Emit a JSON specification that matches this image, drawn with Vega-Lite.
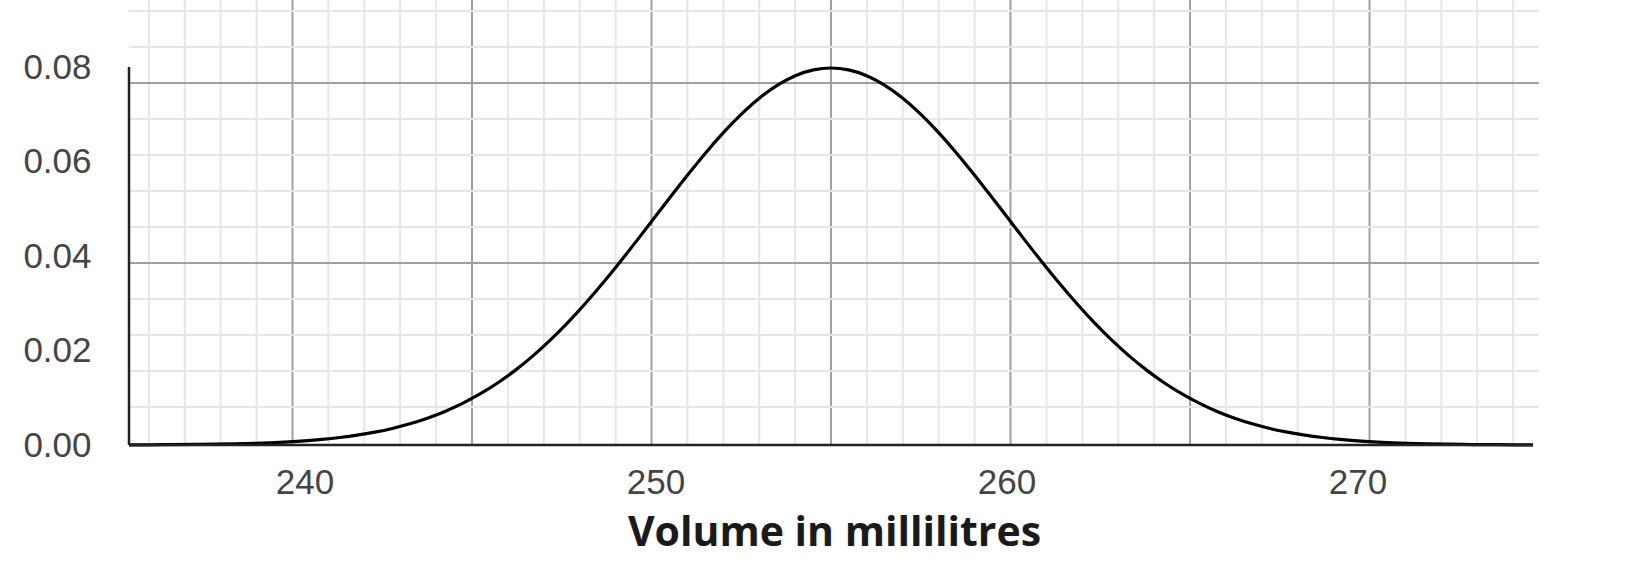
{
  "$schema": "https://vega.github.io/schema/vega-lite/v6.json",
  "width": 1410,
  "height": 445,
  "autosize": "none",
  "padding": {"left": 129, "top": 0, "right": 93, "bottom": 122},
  "background": "white",
  "config": {
    "view": {"stroke": null},
    "axis": {
      "labelFont": "Liberation Sans", "labelFontSize": 35, "labelColor": "#444444",
      "ticks": false, "tickSize": 0, "domain": false, "grid": false
    }
  },
  "datasets": {
    "curve": [
      {"ml": 235, "density": 0.0000267},
      {"ml": 236, "density": 0.0000584},
      {"ml": 237, "density": 0.000122},
      {"ml": 238, "density": 0.000246},
      {"ml": 239, "density": 0.000477},
      {"ml": 240, "density": 0.000886},
      {"ml": 240.5, "density": 0.001191},
      {"ml": 241, "density": 0.001583},
      {"ml": 241.5, "density": 0.002084},
      {"ml": 242, "density": 0.002717},
      {"ml": 242.5, "density": 0.003506},
      {"ml": 243, "density": 0.004479},
      {"ml": 243.5, "density": 0.005666},
      {"ml": 244, "density": 0.007095},
      {"ml": 244.5, "density": 0.008797},
      {"ml": 245, "density": 0.010798},
      {"ml": 245.5, "density": 0.013123},
      {"ml": 246, "density": 0.01579},
      {"ml": 246.5, "density": 0.01881},
      {"ml": 247, "density": 0.022184},
      {"ml": 247.5, "density": 0.025904},
      {"ml": 248, "density": 0.029945},
      {"ml": 248.5, "density": 0.034273},
      {"ml": 249, "density": 0.038837},
      {"ml": 249.5, "density": 0.04357},
      {"ml": 250, "density": 0.048394},
      {"ml": 250.5, "density": 0.053217},
      {"ml": 251, "density": 0.057938},
      {"ml": 251.5, "density": 0.062451},
      {"ml": 252, "density": 0.066645},
      {"ml": 252.5, "density": 0.070413},
      {"ml": 253, "density": 0.073654},
      {"ml": 253.5, "density": 0.076278},
      {"ml": 254, "density": 0.078209},
      {"ml": 254.5, "density": 0.079391},
      {"ml": 255, "density": 0.079788},
      {"ml": 255.5, "density": 0.079391},
      {"ml": 256, "density": 0.078209},
      {"ml": 256.5, "density": 0.076278},
      {"ml": 257, "density": 0.073654},
      {"ml": 257.5, "density": 0.070413},
      {"ml": 258, "density": 0.066645},
      {"ml": 258.5, "density": 0.062451},
      {"ml": 259, "density": 0.057938},
      {"ml": 259.5, "density": 0.053217},
      {"ml": 260, "density": 0.048394},
      {"ml": 260.5, "density": 0.04357},
      {"ml": 261, "density": 0.038837},
      {"ml": 261.5, "density": 0.034273},
      {"ml": 262, "density": 0.029945},
      {"ml": 262.5, "density": 0.025904},
      {"ml": 263, "density": 0.022184},
      {"ml": 263.5, "density": 0.01881},
      {"ml": 264, "density": 0.01579},
      {"ml": 264.5, "density": 0.013123},
      {"ml": 265, "density": 0.010798},
      {"ml": 265.5, "density": 0.008797},
      {"ml": 266, "density": 0.007095},
      {"ml": 266.5, "density": 0.005666},
      {"ml": 267, "density": 0.004479},
      {"ml": 267.5, "density": 0.003506},
      {"ml": 268, "density": 0.002717},
      {"ml": 268.5, "density": 0.002084},
      {"ml": 269, "density": 0.001583},
      {"ml": 269.5, "density": 0.001191},
      {"ml": 270, "density": 0.000886},
      {"ml": 271, "density": 0.000477},
      {"ml": 272, "density": 0.000246},
      {"ml": 273, "density": 0.000122},
      {"ml": 274, "density": 0.0000584},
      {"ml": 275, "density": 0.0000267}
    ],
    "vgrid": [
      {"pos": 235.567, "kind": "minor"}, {"pos": 236.59, "kind": "minor"},
      {"pos": 237.612, "kind": "minor"}, {"pos": 238.635, "kind": "minor"},
      {"pos": 239.658, "kind": "major"}, {"pos": 240.681, "kind": "minor"},
      {"pos": 241.704, "kind": "minor"}, {"pos": 242.726, "kind": "minor"},
      {"pos": 243.749, "kind": "minor"}, {"pos": 244.772, "kind": "major"},
      {"pos": 245.795, "kind": "minor"}, {"pos": 246.818, "kind": "minor"},
      {"pos": 247.84, "kind": "minor"}, {"pos": 248.863, "kind": "minor"},
      {"pos": 249.886, "kind": "major"}, {"pos": 250.909, "kind": "minor"},
      {"pos": 251.932, "kind": "minor"}, {"pos": 252.954, "kind": "minor"},
      {"pos": 253.977, "kind": "minor"}, {"pos": 255.0, "kind": "major"},
      {"pos": 256.023, "kind": "minor"}, {"pos": 257.046, "kind": "minor"},
      {"pos": 258.068, "kind": "minor"}, {"pos": 259.091, "kind": "minor"},
      {"pos": 260.114, "kind": "major"}, {"pos": 261.137, "kind": "minor"},
      {"pos": 262.16, "kind": "minor"}, {"pos": 263.182, "kind": "minor"},
      {"pos": 264.205, "kind": "minor"}, {"pos": 265.228, "kind": "major"},
      {"pos": 266.251, "kind": "minor"}, {"pos": 267.274, "kind": "minor"},
      {"pos": 268.296, "kind": "minor"}, {"pos": 269.319, "kind": "minor"},
      {"pos": 270.342, "kind": "major"}, {"pos": 271.365, "kind": "minor"},
      {"pos": 272.388, "kind": "minor"}, {"pos": 273.41, "kind": "minor"},
      {"pos": 274.433, "kind": "minor"}
    ],
    "hgrid": [
      {"pos": 0.09185, "kind": "minor"}, {"pos": 0.08423, "kind": "minor"},
      {"pos": 0.07661, "kind": "major"}, {"pos": 0.06899, "kind": "minor"},
      {"pos": 0.06138, "kind": "minor"}, {"pos": 0.05376, "kind": "minor"},
      {"pos": 0.04614, "kind": "minor"}, {"pos": 0.03852, "kind": "major"},
      {"pos": 0.0309, "kind": "minor"}, {"pos": 0.02328, "kind": "minor"},
      {"pos": 0.01566, "kind": "minor"}, {"pos": 0.00804, "kind": "minor"}
    ],
    "axislines": [
      {"x": 235, "x2": 275, "y": 0, "y2": 0},
      {"x": 235, "x2": 235, "y": 0, "y2": 0.08}
    ]
  },
  "encoding": {
    "x": {
      "type": "quantitative",
      "scale": {"domain": [235, 275.17], "nice": false, "zero": false},
      "axis": {
        "values": [240, 250, 260, 270],
        "title": "Volume in millilitres",
        "titleFont": "Open Sans", "titleFontWeight": "bold", "titleFontSize": 41,
        "titleColor": "#1a1a1a", "titlePadding": 13, "labelPadding": 20
      }
    },
    "y": {
      "type": "quantitative",
      "scale": {"domain": [0, 0.09418], "nice": false, "zero": false},
      "axis": {
        "values": [0, 0.02, 0.04, 0.06, 0.08],
        "format": ".2f", "title": null, "labelPadding": 38
      }
    }
  },
  "layer": [
    {
      "data": {"name": "vgrid"},
      "mark": {"type": "rule", "strokeWidth": 2},
      "encoding": {
        "x": {"field": "pos"},
        "y": null,
        "color": {"field": "kind", "type": "nominal", "legend": null,
                  "scale": {"domain": ["minor", "major"], "range": ["#e6e6e6", "#a0a0a0"]}}
      }
    },
    {
      "data": {"name": "hgrid"},
      "mark": {"type": "rule", "strokeWidth": 2},
      "encoding": {
        "y": {"field": "pos"},
        "x": null,
        "color": {"field": "kind", "type": "nominal", "legend": null,
                  "scale": {"domain": ["minor", "major"], "range": ["#e6e6e6", "#a0a0a0"]}}
      }
    },
    {
      "data": {"name": "curve"},
      "mark": {"type": "line", "color": "#000000", "strokeWidth": 3.2, "interpolate": "monotone"},
      "encoding": {
        "x": {"field": "ml"},
        "y": {"field": "density"}
      }
    },
    {
      "data": {"name": "axislines"},
      "mark": {"type": "rule", "color": "#222222", "strokeWidth": 2.5},
      "encoding": {
        "x": {"field": "x"},
        "x2": {"field": "x2"},
        "y": {"field": "y"},
        "y2": {"field": "y2"}
      }
    }
  ]
}
